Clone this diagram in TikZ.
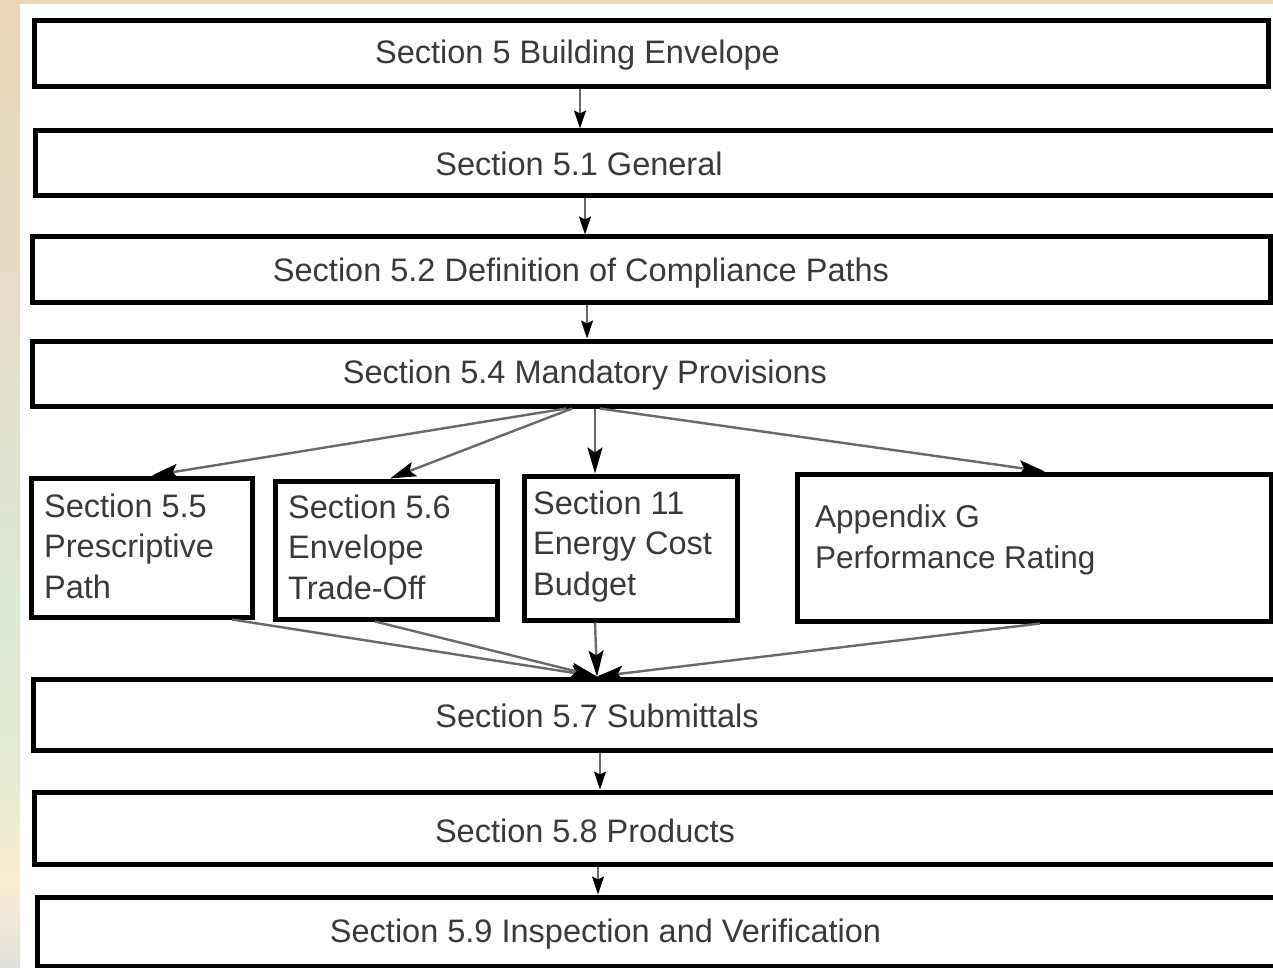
\documentclass[tikz,border=0pt]{standalone}
\usepackage{fontspec}
\setmainfont{Liberation Sans}
\usetikzlibrary{arrows.meta}
\definecolor{inkgray}{RGB}{58,58,58}
\definecolor{linegray}{RGB}{105,105,105}
\definecolor{edgeA}{RGB}{236,214,184}
\definecolor{edgeB}{RGB}{229,221,200}
\definecolor{edgeC}{RGB}{220,232,210}
\definecolor{edgeD}{RGB}{228,234,208}
\definecolor{edgeE}{RGB}{250,238,210}
\definecolor{edgeF}{RGB}{224,224,220}
\begin{document}
\begin{tikzpicture}[x=1pt,y=-1pt,
  box/.style={draw=black, line width=5pt, fill=white, rectangle, inner sep=0pt},
  lbl/.style={text=inkgray, font=\fontsize{32.5}{40.5}\selectfont, inner sep=0pt},
  multi/.style={lbl, align=left, anchor=north west},
  flow/.style={draw=linegray, line width=2pt,
    -{Stealth[length=18pt,width=12pt,inset=3pt,color=black]}},
  fan/.style={draw=linegray, line width=2.4pt,
    -{Stealth[length=26pt,width=15pt,inset=5pt,color=black]}}]
\useasboundingbox (0,0) rectangle (1273,968);
\clip (0,0) rectangle (1273,968);

% page background and tinted margins
\fill[white] (0,0) rectangle (1273,968);
\fill[edgeA] (0,0) rectangle (1273,4);
\shade[top color=edgeA, bottom color=edgeB] (0,0) rectangle (20,300);
\shade[top color=edgeB, bottom color=edgeC] (0,300) rectangle (20,600);
\shade[top color=edgeC, bottom color=edgeD] (0,600) rectangle (20,780);
\shade[top color=edgeD, bottom color=edgeE] (0,780) rectangle (20,880);
\shade[top color=edgeE, bottom color=edgeF] (0,880) rectangle (20,968);

% full-width section boxes
\node[box, minimum width=1234pt, minimum height=66pt] (b1) at (651,54) {};
\node[box, minimum width=1265pt, minimum height=65pt] (b2) at (667.5,163.5) {};
\node[box, minimum width=1238pt, minimum height=65pt] (b3) at (651,269.5) {};
\node[box, minimum width=1268pt, minimum height=65pt] (b4) at (666,373.5) {};
\node[box, minimum width=1267pt, minimum height=71pt] (b9) at (666.5,714.5) {};
\node[box, minimum width=1266pt, minimum height=72pt] (b10) at (667,828) {};
\node[box, minimum width=1263pt, minimum height=69pt] (b11) at (668.5,931.5) {};

% compliance path boxes
\node[box, minimum width=221pt, minimum height=139pt] (b5) at (141.5,547.5) {};
\node[box, minimum width=222pt, minimum height=138pt] (b6) at (386,550) {};
\node[box, minimum width=213pt, minimum height=144pt] (b7) at (630.5,548) {};
\node[box, minimum width=474pt, minimum height=147pt] (b8) at (1034,547.5) {};

% titles
\node[lbl, anchor=base] (t1) at (577.5,63.5) {Section 5 Building Envelope};
\node[lbl, anchor=base] (t2) at (579,176) {Section 5.1 General};
\node[lbl, anchor=base] (t3) at (581,281) {Section 5.2 Definition of Compliance Paths};
\node[lbl, anchor=base] (t4) at (585,383.5) {Section 5.4 Mandatory Provisions};
\node[lbl, anchor=base] (t9) at (597,727.5) {Section 5.7 Submittals};
\node[lbl, anchor=base] (t10) at (585,842.5) {Section 5.8 Products};
\node[lbl, anchor=base] (t11) at (605.5,942.5) {Section 5.9 Inspection and Verification};

\node[multi] (t5) at (44,493.3) {Section 5.5\\Prescriptive\\Path};
\node[multi] (t6) at (288,494.3) {Section 5.6\\Envelope\\Trade-Off};
\node[multi] (t7) at (533,490.3) {Section 11\\Energy Cost\\Budget};
\node[multi, font=\fontsize{31.5}{41.5}\selectfont] (t8) at (815,504.3) {Appendix G\\Performance Rating};

% sequential connectors
\draw[flow] (580,0 |- b1.south) -- (580,0 |- b2.north);
\draw[flow] (585,0 |- b2.south) -- (585,0 |- b3.north);
\draw[flow] (587,0 |- b3.south) -- (587,0 |- b4.north);
\draw[flow] (600,0 |- b9.south) -- (600,0 |- b10.north);
\draw[flow] (598,0 |- b10.south) -- (598,0 |- b11.north);

% fan out to the compliance paths
\draw[fan] (566,0 |- b4.south) -- (152,0 |- b5.north);
\draw[fan] (572,0 |- b4.south) -- (390,0 |- b6.north);
\draw[fan] (595,0 |- b4.south) -- (595,0 |- b7.north);
\draw[fan] (600,0 |- b4.south) -- (1045,0 |- b8.north);

% fan in to submittals
\draw[fan] (232,0 |- b5.south) -- (597,0 |- b9.north);
\draw[fan] (375,0 |- b6.south) -- (597,0 |- b9.north);
\draw[fan] (595,0 |- b7.south) -- (597,0 |- b9.north);
\draw[fan] (1040,0 |- b8.south) -- (597,0 |- b9.north);
\end{tikzpicture}
\end{document}
